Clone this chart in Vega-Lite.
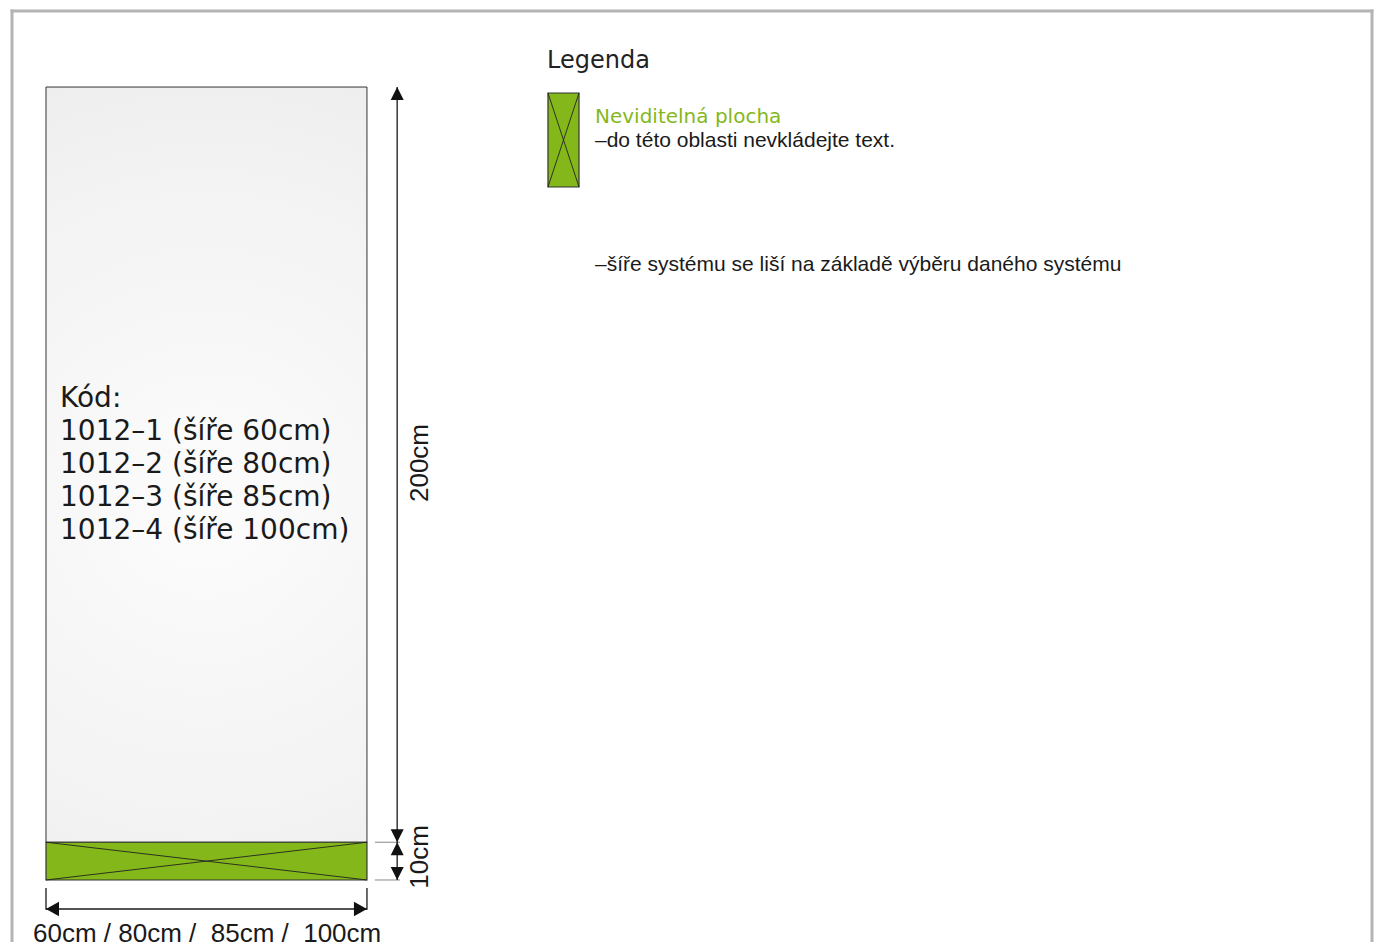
{
  "$schema": "https://vega.github.io/schema/vega-lite/v6.json",
  "width": 1379,
  "height": 942,
  "padding": 0,
  "autosize": {"type": "none"},
  "background": "#ffffff",
  "config": {"view": {"stroke": null}},
  "datasets": {
    "frame": [
      {"x": -9.0, "y": -16.42, "x2": -9.0, "y2": 230.14},
      {"x": -9.0, "y": 230.14, "x2": 351.17, "y2": 230.14},
      {"x": 351.17, "y": 230.14, "x2": 351.17, "y2": -16.42}
    ],
    "banner": [{"x": 0, "x2": 85, "y": 10, "y2": 210}],
    "green": [
      {"x": 0, "x2": 85, "y": 0, "y2": 10},
      {"x": 132.94, "x2": 141.16, "y": 183.53, "y2": 208.42}
    ],
    "diag": [
      {"x": 0, "y": 10, "x2": 85, "y2": 0},
      {"x": 0, "y": 0, "x2": 85, "y2": 10},
      {"x": 132.94, "y": 208.42, "x2": 141.16, "y2": 183.53},
      {"x": 132.94, "y": 183.53, "x2": 141.16, "y2": 208.42}
    ],
    "dims": [
      {"x": 93, "y": 0, "x2": 93, "y2": 210},
      {"x": 0, "y": -7.68, "x2": 85, "y2": -7.68},
      {"x": 0, "y": -2.1, "x2": 0, "y2": -7.9},
      {"x": 85, "y": -2.1, "x2": 85, "y2": -7.9}
    ],
    "ext": [
      {"x": 87.1, "y": 10, "x2": 93.75, "y2": 10},
      {"x": 87.1, "y": 0, "x2": 93.75, "y2": 0}
    ],
    "arrows": [
      {"x": 93, "y": 210, "dir": "up"},
      {"x": 93, "y": 10, "dir": "down"},
      {"x": 93, "y": 10, "dir": "up"},
      {"x": 93, "y": 0, "dir": "down"},
      {"x": 0, "y": -7.68, "dir": "left"},
      {"x": 85, "y": -7.68, "dir": "right"}
    ],
    "kod": [
      {"label": "Kód:", "x": 3.71, "y": 125.26},
      {"label": "1012–1 (šíře 60cm)", "x": 3.71, "y": 116.53},
      {"label": "1012–2 (šíře 80cm)", "x": 3.71, "y": 107.79},
      {"label": "1012–3 (šíře 85cm)", "x": 3.71, "y": 99.05},
      {"label": "1012–4 (šíře 100cm)", "x": 3.71, "y": 90.31}
    ],
    "legtitle": [{"label": "Legenda", "x": 132.7, "y": 215.0}],
    "leggreen": [{"label": "Neviditelná plocha", "x": 145.39, "y": 200.6}],
    "notes": [
      {"label": "–do této oblasti nevkládejte text.", "x": 145.39, "y": 193.99},
      {"label": "–šíře systému se liší na základě výběru daného systému", "x": 145.39, "y": 161.28}
    ],
    "dimv": [
      {"label": "200cm", "x": 99.05, "y": 110.43},
      {"label": "10cm", "x": 99.05, "y": 6.09}
    ],
    "dimh": [{"label": "60cm / 80cm / \u00a085cm / \u00a0100cm", "x": -3.44, "y": -16.4}]
  },
  "encoding": {
    "x": {"field": "x", "type": "quantitative", "scale": {"domain": [-12.182, 353.02], "nice": false, "zero": false}, "axis": null},
    "y": {"field": "y", "type": "quantitative", "scale": {"domain": [-16.42, 233.05], "nice": false, "zero": false}, "axis": null}
  },
  "layer": [
    {
      "data": {"name": "frame"},
      "mark": {"type": "rule", "color": "#b4b4b4", "strokeWidth": 3, "strokeCap": "square", "clip": false},
      "encoding": {"x2": {"field": "x2"}, "y2": {"field": "y2"}}
    },
    {
      "data": {"name": "banner"},
      "mark": {
        "type": "rect",
        "stroke": "#333333",
        "strokeWidth": 1,
        "fill": {
          "gradient": "radial",
          "x1": 0.5, "y1": 0.55, "r1": 0,
          "x2": 0.5, "y2": 0.55, "r2": 0.75,
          "stops": [
            {"offset": 0, "color": "#fcfcfc"},
            {"offset": 0.5, "color": "#f4f4f4"},
            {"offset": 1, "color": "#eaeaeb"}
          ]
        }
      },
      "encoding": {"x2": {"field": "x2"}, "y2": {"field": "y2"}}
    },
    {
      "data": {"name": "green"},
      "mark": {"type": "rect", "fill": "#84b81a", "stroke": "#333333", "strokeWidth": 1.2},
      "encoding": {"x2": {"field": "x2"}, "y2": {"field": "y2"}}
    },
    {
      "data": {"name": "diag"},
      "mark": {"type": "rule", "color": "#222222", "strokeWidth": 0.9},
      "encoding": {"x2": {"field": "x2"}, "y2": {"field": "y2"}}
    },
    {
      "data": {"name": "ext"},
      "mark": {"type": "rule", "color": "#888888", "strokeWidth": 1},
      "encoding": {"x2": {"field": "x2"}, "y2": {"field": "y2"}}
    },
    {
      "data": {"name": "dims"},
      "mark": {"type": "rule", "color": "#1a1a1a", "strokeWidth": 1.3},
      "encoding": {"x2": {"field": "x2"}, "y2": {"field": "y2"}}
    },
    {
      "data": {"name": "arrows"},
      "mark": {"type": "point", "filled": true, "color": "#111111", "opacity": 1, "size": 676, "strokeWidth": 0},
      "encoding": {
        "shape": {
          "field": "dir",
          "type": "nominal",
          "legend": null,
          "scale": {
            "domain": ["up", "down", "left", "right"],
            "range": ["M0,0L-0.5,1L0.5,1Z", "M0,0L-0.5,-1L0.5,-1Z", "M0,0L1,-0.55L1,0.55Z", "M0,0L-1,-0.55L-1,0.55Z"]
          }
        }
      }
    },
    {
      "data": {"name": "kod"},
      "mark": {"type": "text", "font": "DejaVu Sans", "fontSize": 28, "color": "#1a1a1a", "align": "left", "baseline": "alphabetic"},
      "encoding": {"text": {"field": "label"}}
    },
    {
      "data": {"name": "legtitle"},
      "mark": {"type": "text", "font": "DejaVu Sans", "fontSize": 24, "color": "#222222", "align": "left", "baseline": "alphabetic"},
      "encoding": {"text": {"field": "label"}}
    },
    {
      "data": {"name": "leggreen"},
      "mark": {"type": "text", "font": "DejaVu Sans", "fontSize": 20, "color": "#84b81a", "align": "left", "baseline": "alphabetic"},
      "encoding": {"text": {"field": "label"}}
    },
    {
      "data": {"name": "notes"},
      "mark": {"type": "text", "font": "Liberation Sans", "fontSize": 21, "color": "#1a1a1a", "align": "left", "baseline": "alphabetic"},
      "encoding": {"text": {"field": "label"}}
    },
    {
      "data": {"name": "dimv"},
      "mark": {"type": "text", "font": "Liberation Sans", "fontSize": 26, "color": "#1a1a1a", "align": "center", "baseline": "middle", "angle": 270},
      "encoding": {"text": {"field": "label"}}
    },
    {
      "data": {"name": "dimh"},
      "mark": {"type": "text", "font": "Liberation Sans", "fontSize": 26, "color": "#1a1a1a", "align": "left", "baseline": "alphabetic"},
      "encoding": {"text": {"field": "label"}}
    }
  ]
}
